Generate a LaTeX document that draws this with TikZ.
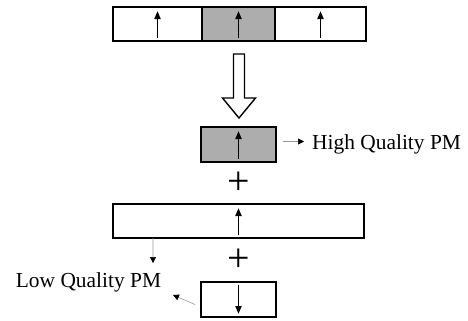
\documentclass[tikz,border=0pt]{standalone}
\usepackage{fontspec}
\setmainfont{Liberation Serif}
\usetikzlibrary{positioning}
\usetikzlibrary{arrows.meta}

\begin{document}
\begin{tikzpicture}[x=1bp, y=-1bp,
    box/.style = {rectangle, draw, line width=1.8bp, minimum height=34bp, outer sep=0pt, inner sep=0pt},
    pm/.style = {fill=black!32},
    spin/.style = {-{Triangle[length=8bp, width=6bp]}, line width=1.8bp},
    note/.style = {draw=black!40, line width=0.6bp, -{Triangle[length=6bp, width=6bp, color=black]}},
    lbl/.style = {font=\fontsize{21.5}{24}\selectfont, inner sep=0pt},
    plus/.style = {font=\fontsize{40}{40}\selectfont, inner sep=0pt}]
    \useasboundingbox (0,0) rectangle (468,320);
    % nodes %
    \node[box, minimum width=89bp] (left) at (157.5,24) {};
    \node[box, pm, minimum width=73bp, right = 0pt of left] (mid) {};
    \node[box, minimum width=91bp, right = 0pt of mid] (right) {};
    \node[box, pm, minimum width=75bp, minimum height=35bp] (hq) at (238.5,144.5) {};
    \node[plus] (plusa) at (238.5,183) {+};
    \node[box, minimum width=251bp] (long) at (238.5,221) {};
    \node[plus] (plusb) at (238.5,260) {+};
    \node[box, minimum width=75bp, minimum height=35bp] (low) at (238.5,299.5) {};
    \node[lbl, right = 36bp of hq] (hqtext) {High Quality PM};
    \node[lbl] (lqtext) at (88.5,282) {Low Quality PM};
    \coordinate (lqtipa) at (153,263);
    \coordinate (lqtipb) at (173,295);
    % big arrow %
    \draw[line width=1.4bp, fill=white] (233.5,54) -- (244.5,54) -- (244.5,98) -- (255.5,98)
        -- (239,118) -- (222.5,98) -- (233.5,98) -- cycle;
    % spins %
    \foreach \n in {left, mid, right, hq, long}
        \draw[spin] ([yshift=3bp]\n.south) -- ([yshift=-4bp]\n.north);
    \draw[spin] ([yshift=-3bp]low.north) -- ([yshift=3bp]low.south);
    % edges %
    \draw[note] ([xshift=7bp, yshift=3bp]hq.east) -- ([xshift=-8bp, yshift=3bp]hqtext.west);
    \draw[note] ([xshift=-85.5bp]long.south) -- (lqtipa);
    \draw[note] ([xshift=-6bp, yshift=-5bp]low.west) -- (lqtipb);
\end{tikzpicture}
\end{document}
